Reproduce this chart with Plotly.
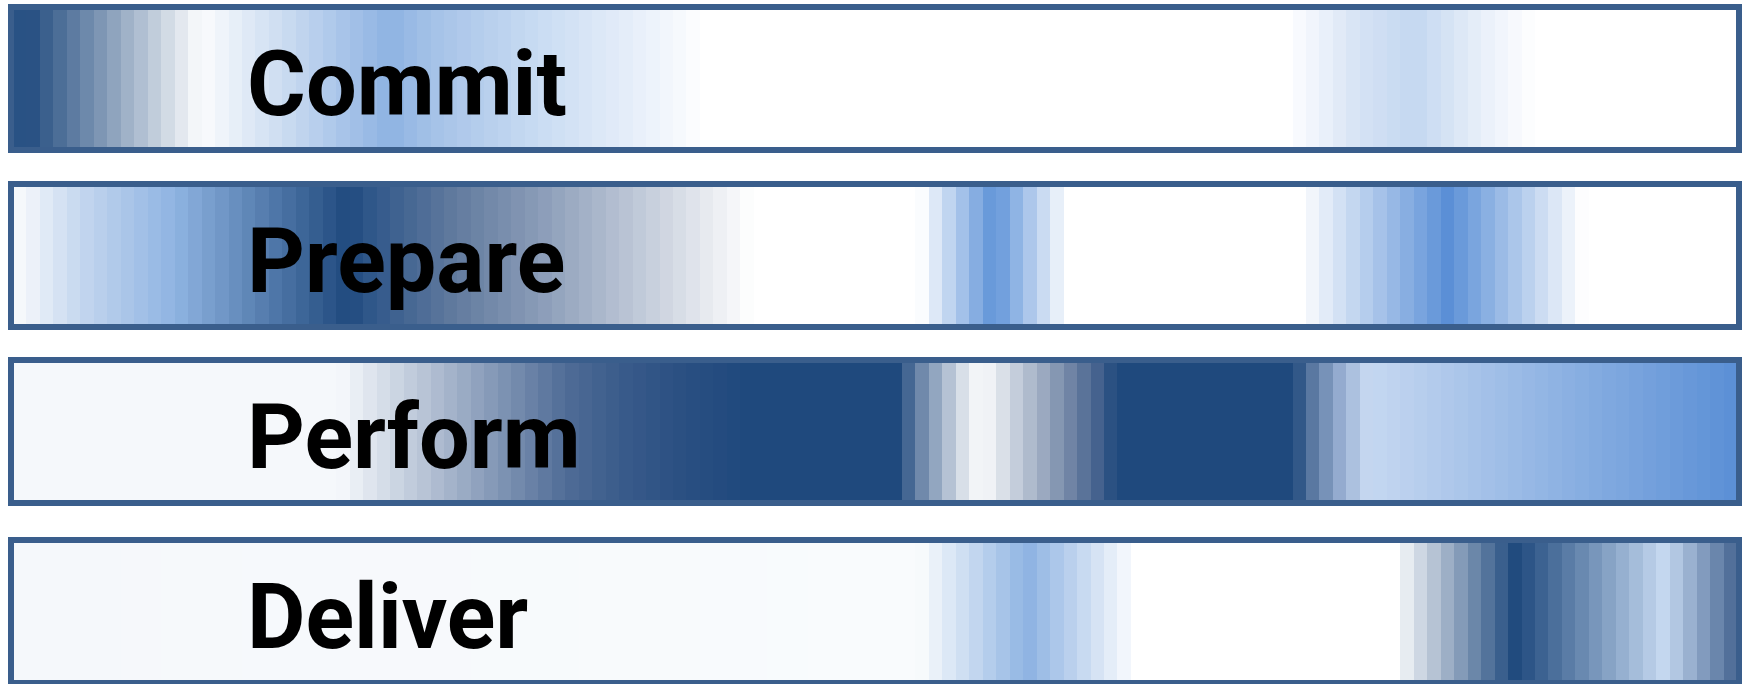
import plotly.graph_objects as go

# ---- data: stage names and gradient stops (pixel position along the bar, colour) ----
stages = ["Commit", "Prepare", "Perform", "Deliver"]

commit_pos = [13, 24, 201, 390, 430, 536, 625, 705, 1285, 1306, 1360, 1407, 1420, 1461, 1496, 1536, 1737]
commit_col = ["#3a5f8e", "#1f497d", "#fbfcfd", "#8db2e2", "#a4c1e7", "#c8dbf2", "#e4edf9", "#ffffff",
              "#ffffff", "#f5f8fd", "#d5e2f4", "#c6d9f1", "#c6d9f1", "#dde8f6", "#eff4fb", "#ffffff", "#ffffff"]

prepare_pos = [13, 23, 80, 174, 350, 364, 458, 540, 653, 709, 752, 920, 994, 1068, 1300, 1448, 1584, 1737]
prepare_col = ["#f6f9fc", "#f4f7fb", "#c5d7ef", "#8fb4e2", "#1f497d", "#2b5488", "#637c9f", "#8a9cb8",
               "#c8d0dd", "#e8ebf0", "#ffffff", "#ffffff", "#5f93d8", "#ffffff", "#ffffff", "#5a8fd6",
               "#ffffff", "#ffffff"]

perform_pos = [13, 340, 486, 567, 624, 690, 746, 897, 920, 947, 968, 975, 988, 1015, 1042, 1069, 1096,
               1117, 1293, 1313, 1340, 1368, 1737]
perform_col = ["#f5f8fb", "#f5f8fb", "#8a9dba", "#4f6c96", "#385a8a", "#294e81", "#1f497d", "#1f497d",
               "#6a84a8", "#b0bed1", "#e6eaf0", "#f2f4f7", "#f2f4f7", "#c6cfdc", "#9dabc1", "#7286a6",
               "#47648f", "#1f497d", "#1f497d", "#5b79a1", "#95acd0", "#c6d8f1", "#5a8fd6"]

deliver_pos = [13, 920, 1028, 1137, 1394, 1516, 1665, 1732, 1737]
deliver_col = ["#f5f8fb", "#f9fbfd", "#8eb3e2", "#ffffff", "#ffffff", "#1f497d", "#c6d9f1", "#4f6d98",
               "#4a6a96"]

stops = [(commit_pos, commit_col), (prepare_pos, prepare_col),
         (perform_pos, perform_col), (deliver_pos, deliver_col)]

# ---- layout constants ----
W, H = 1747, 684
ROW_TOP = [4, 181, 357, 537]
ROW_H = 149
BORDER = 6
X_OUT0, X_OUT1 = 8, 1742
X_IN0, X_IN1 = 13, 1737
N_BANDS = 128
BORDER_COLOR = "#3a5e8c"

band_w = (X_IN1 - X_IN0) / N_BANDS
edges = [X_IN0 + k * band_w for k in range(N_BANDS + 1)]
centers = [(edges[k] + edges[k + 1]) / 2 for k in range(N_BANDS)]

fig = go.Figure()
shapes = []
annotations = []
for i, name in enumerate(stages):
    pos, col = stops[i]
    lo, hi = pos[0], pos[-1]
    cscale = [[(p - lo) / (hi - lo), c] for p, c in zip(pos, col)]
    top = ROW_TOP[i]
    bot = top + ROW_H
    xe = [X_OUT0 + 2] + edges[1:-1] + [X_OUT1 - 2]
    fig.add_trace(go.Heatmap(
        x=xe, y=[top + 2, bot - 2], z=[centers],
        zmin=lo, zmax=hi, colorscale=cscale, showscale=False,
        hoverinfo="skip", zsmooth=False,
    ))
    shapes.append(dict(type="rect", xref="x", yref="y",
                       x0=X_OUT0 + BORDER / 2, x1=X_OUT1 - BORDER / 2,
                       y0=top + BORDER / 2, y1=bot - BORDER / 2,
                       line=dict(color=BORDER_COLOR, width=BORDER), fillcolor="rgba(0,0,0,0)",
                       layer="above"))
    annotations.append(dict(x=245, y=(top + bot) / 2 + 6, xref="x", yref="y",
                            text=name, showarrow=False, xanchor="left", yanchor="middle",
                            font=dict(family="Roboto, Liberation Sans, Arial",
                                      size=90, color="#000000", weight="bold")))

fig.update_layout(
    width=W, height=H, margin=dict(l=0, r=0, t=0, b=0),
    paper_bgcolor="#ffffff", plot_bgcolor="#ffffff",
    xaxis=dict(range=[0, W], visible=False, fixedrange=True),
    yaxis=dict(range=[H, 0], visible=False, fixedrange=True),
    shapes=shapes, annotations=annotations, showlegend=False,
)
fig.write_html("out.html", config={"displayModeBar": False},
               post_script="document.body.style.margin='0';document.body.style.overflow='hidden';")
